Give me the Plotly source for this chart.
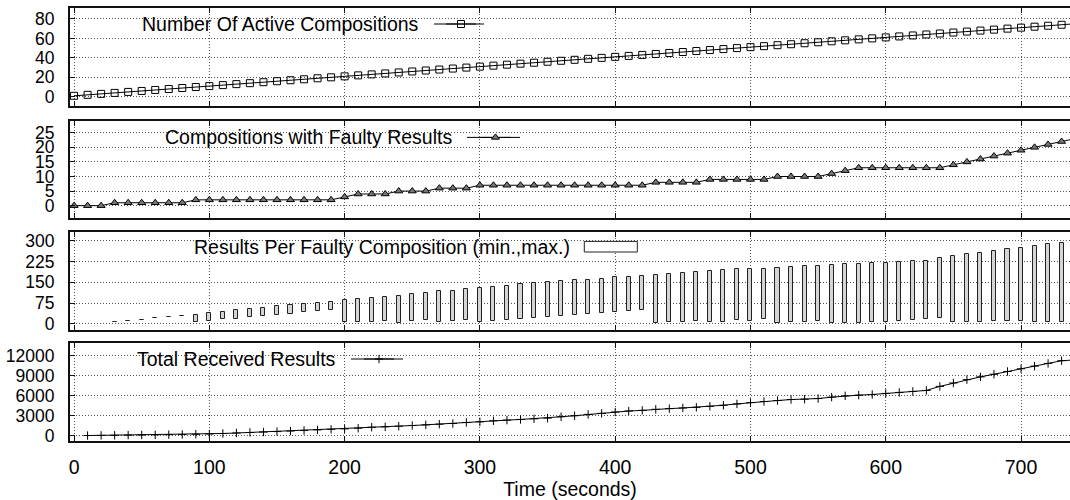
import plotly.graph_objects as go

# ---------------- data ----------------
t_main = [0, 10, 20, 30, 40, 50, 60, 70, 80, 90, 100, 110, 120, 130, 140, 150, 160, 170, 180, 190,
          200, 210, 220, 230, 240, 250, 260, 270, 280, 290, 300, 310, 320, 330, 340, 350, 360, 370,
          380, 390, 400, 410, 420, 430, 440, 450, 460, 470, 480, 490, 500, 510, 520, 530, 540, 550,
          560, 570, 580, 590, 600, 610, 620, 630, 640, 650, 660, 670, 680, 690, 700, 710, 720, 730, 740]

active = [1, 2, 3, 4, 5, 6, 7, 8, 9, 10, 11, 12, 13, 14, 15, 16, 17, 18, 19, 20,
          21, 22, 23, 24, 25, 26, 27, 28, 29, 30, 31, 32, 33, 34, 35, 36, 37, 38,
          39, 40, 41, 42, 43, 44, 45, 46, 47, 48, 49, 50, 51, 52, 53, 54, 55, 56,
          57, 58, 59, 60, 61, 62, 63, 64, 65, 66, 67, 68, 69, 70, 71, 72, 73, 74, 75]

faulty = [0, 0, 0, 1, 1, 1, 1, 1, 1, 2, 2, 2, 2, 2, 2, 2, 2, 2, 2, 2,
          3, 4, 4, 4, 5, 5, 5, 6, 6, 6, 7, 7, 7, 7, 7, 7, 7, 7,
          7, 7, 7, 7, 7, 8, 8, 8, 8, 9, 9, 9, 9, 9, 10, 10, 10, 10,
          11, 12, 13, 13, 13, 13, 13, 13, 13, 14, 15, 16, 17, 18, 19, 20, 21, 22, 23]

t_box = [30, 40, 50, 60, 70, 80, 90, 100, 110, 120, 130, 140, 150, 160, 170, 180, 190,
         200, 210, 220, 230, 240, 250, 260, 270, 280, 290, 300, 310, 320, 330, 340, 350, 360, 370,
         380, 390, 400, 410, 420, 430, 440, 450, 460, 470, 480, 490, 500, 510, 520, 530, 540, 550,
         560, 570, 580, 590, 600, 610, 620, 630, 640, 650, 660, 670, 680, 690, 700, 710, 720, 730]
res_max = [5, 10, 15, 20, 25, 30, 33, 38, 44, 49, 55, 58, 63, 67, 72, 74, 80,
           85, 90, 94, 98, 102, 106, 112, 117, 120, 124, 128, 132, 137, 142, 146, 151, 154, 157,
           159, 163, 168, 170, 174, 177, 181, 185, 187, 190, 193, 196, 197, 199, 203, 205, 207, 209,
           211, 216, 217, 220, 221, 224, 226, 228, 236, 243, 250, 256, 262, 270, 275, 280, 286, 292]
res_min = [5, 10, 15, 20, 25, 30, 6, 9, 17, 18, 23, 28, 33, 35, 41, 45, 51,
           5, 6, 8, 12, 4, 11, 15, 7, 11, 15, 5, 10, 13, 18, 21, 24, 28, 32,
           35, 39, 43, 47, 51, 2, 6, 8, 11, 6, 8, 13, 12, 16, 4, 6, 8, 11,
           2, 4, 4, 6, 8, 12, 15, 17, 21, 6, 6, 7, 9, 9, 9, 5, 5, 6]

t_total = [10, 20, 30, 40, 50, 60, 70, 80, 90, 100, 110, 120, 130, 140, 150, 160, 170, 180, 190,
           200, 210, 220, 230, 240, 250, 260, 270, 280, 290, 300, 310, 320, 330, 340, 350, 360, 370,
           380, 390, 400, 410, 420, 430, 440, 450, 460, 470, 480, 490, 500, 510, 520, 530, 540, 550,
           560, 570, 580, 590, 600, 610, 620, 630, 640, 650, 660, 670, 680, 690, 700, 710, 720, 730, 740]
total = [20, 40, 60, 80, 100, 120, 150, 180, 210, 250, 330, 400, 480, 550, 620, 700, 790, 870, 960,
         1020, 1120, 1270, 1330, 1420, 1530, 1630, 1730, 1830, 1980, 2080, 2240, 2340, 2440, 2540, 2640, 2850, 3000,
         3200, 3360, 3560, 3710, 3810, 3970, 4070, 4170, 4270, 4420, 4580, 4780, 4980, 5140, 5290, 5440, 5490, 5590,
         5800, 6000, 6100, 6200, 6360, 6510, 6660, 6810, 7420, 7930, 8440, 8850, 9250, 9660, 10070, 10470, 10880, 11290, 11400]

labels = ["Number Of Active Compositions", "Compositions with Faulty Results",
          "Results Per Faulty Composition (min.,max.)", "Total Received Results"]
x_ticks = [0, 100, 200, 300, 400, 500, 600, 700]
y1_ticks = [0, 20, 40, 60, 80]
y2_ticks = [0, 5, 10, 15, 20, 25]
y3_ticks = [0, 75, 150, 225, 300]
y4_ticks = [0, 3000, 6000, 9000, 12000]

# ---------------- layout geometry (pixels) ----------------
W, H = 1070, 500
L, R, T, B = 70, 0, 8, 59
PH = H - T - B  # plot area height


def px_x(px):
    return (px - L) / (W - L - R)


def px_y(py):
    return (H - B - py) / PH


FONT = "Liberation Sans"
panels = [(8, 105.7), (120.5, 218.2), (232, 329.7), (343.3, 441)]
domains = [[px_y(b), px_y(t)] for t, b in panels]

fig = go.Figure()

line_style = dict(color="black", width=1)

fig.add_trace(go.Scatter(
    x=t_main, y=active, mode="lines+markers", name="", legend="legend",
    line=line_style,
    marker=dict(symbol="square-open", size=7, color="black", line=dict(width=1, color="black")),
    xaxis="x", yaxis="y", cliponaxis=True))

fig.add_trace(go.Scatter(
    x=t_main, y=faulty, mode="lines+markers", name="", legend="legend2",
    line=line_style,
    marker=dict(symbol="triangle-up", size=7, color="#777777", line=dict(width=1, color="black")),
    xaxis="x2", yaxis="y2", cliponaxis=True))

heights = [mx - mn for mx, mn in zip(res_max, res_min)]
fig.add_trace(go.Bar(
    x=t_box, y=heights, base=res_min, width=3, name="", showlegend=False,
    marker=dict(color="#d4d4d4", line=dict(color="#222222", width=1)),
    xaxis="x3", yaxis="y3"))

fig.add_trace(go.Scatter(
    x=t_total, y=total, mode="lines+markers", name="", legend="legend4",
    line=line_style,
    marker=dict(symbol="cross-thin", size=6, color="black", line=dict(width=1, color="black")),
    xaxis="x4", yaxis="y4", cliponaxis=True))

# ---------------- axes ----------------
GRID = dict(showgrid=True, gridcolor="#555555", griddash="1px,2px", gridwidth=1)
xcommon = dict(range=[-3, 736.2], tickvals=x_ticks, showline=True, linecolor="#111111", linewidth=2,
               mirror="ticks", ticks="inside", ticklen=5, tickcolor="#111111", tickwidth=1,
               zeroline=False, automargin=False, domain=[0, 1], **GRID)
ycommon = dict(showline=True, linecolor="#111111", linewidth=2, mirror=False, ticks="inside",
               ticklen=5, tickcolor="#111111", tickwidth=1, zeroline=False, automargin=False,
               tickformat="d", tickfont=dict(family=FONT, size=17.5, color="black"),
               ticklabelstandoff=10, **GRID)

yranges = [[-9.15, 91.2], [-4.3, 29.2], [-21, 331], [-803, 13908]]
yticks = [y1_ticks, y2_ticks, y3_ticks, y4_ticks]

layout = dict(
    width=W, height=H, template="none",
    margin=dict(l=L, r=R, t=T, b=B),
    paper_bgcolor="white", plot_bgcolor="white",
    font=dict(family=FONT, color="black"),
    bargap=0,
)
for i in range(4):
    sfx = "" if i == 0 else str(i + 1)
    xa = dict(xcommon, anchor="y" + sfx)
    if i > 0:
        xa["matches"] = "x"
    if i < 3:
        xa["showticklabels"] = False
    else:
        xa["showticklabels"] = True
        xa["tickfont"] = dict(family=FONT, size=19.5, color="black")
        xa["ticklabelstandoff"] = 8
        xa["title"] = dict(text="Time (seconds)", font=dict(family=FONT, size=19.5, color="black"),
                           standoff=6)
    ya = dict(ycommon, anchor="x" + sfx, domain=domains[i], range=yranges[i], tickvals=yticks[i])
    layout["xaxis" + sfx] = xa
    layout["yaxis" + sfx] = ya

# ---------------- keys (gnuplot-style: text, then sample) ----------------
keys = [
    # (text right px, sample start, sample end, y px, box right px, box top, box bottom)
    (421, 434, 484, 24, 496, 9, 30),
    (454, 467, 520, 137.4, 530, 121.5, 144),
    (571.7, 584.3, 637.3, 246.7, 649, 233, 255),
    (338, 351, 403, 359, 413, 344.3, 368),
]
shapes = []
annotations = []
legend_names = ["legend", "legend2", "legend3", "legend4"]
for i, (tr, s0, s1, yc, br, bt, bb) in enumerate(keys):
    shapes.append(dict(type="rect", xref="paper", yref="paper", layer="between",
                       x0=px_x(79), x1=px_x(br), y0=px_y(bb), y1=px_y(bt),
                       fillcolor="white", line=dict(width=0)))
    annotations.append(dict(text=labels[i], xref="paper", yref="paper", x=px_x(tr), y=px_y(yc),
                            xanchor="right", yanchor="middle", showarrow=False,
                            font=dict(family=FONT, size=19.5, color="black")))
    if i == 2:
        shapes.append(dict(type="rect", xref="paper", yref="paper", layer="above",
                           x0=px_x(s0), x1=px_x(s1), y0=px_y(yc + 5.3), y1=px_y(yc - 5.3),
                           fillcolor="white", line=dict(width=1, color="#222222")))
    else:
        shapes.append(dict(type="line", xref="paper", yref="paper", layer="above",
                           x0=px_x(s0), x1=px_x(s1), y0=px_y(yc), y1=px_y(yc),
                           line=dict(width=1, color="black")))
        cx = (s0 + s1) / 2
        layout[legend_names[i]] = dict(x=px_x(cx - 18), y=px_y(yc), xanchor="left", yanchor="middle",
                                       bgcolor="rgba(0,0,0,0)", borderwidth=0, itemwidth=30,
                                       font=dict(size=12), tracegroupgap=0)

layout["shapes"] = shapes
layout["annotations"] = annotations
fig.update_layout(**layout)
fig.update_layout(showlegend=True)

fig.write_html("out.html", config={"displayModeBar": False},
               post_script="document.body.style.margin='0';document.body.style.overflow='hidden';")
